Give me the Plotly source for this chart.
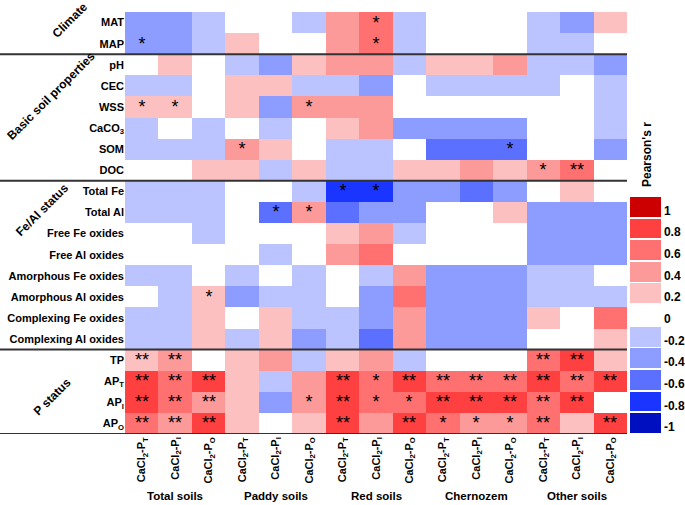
import plotly.graph_objects as go

W, H = 685, 505

row_labels = ["MAT", "MAP", "pH", "CEC", "WSS", "CaCO<sub>3</sub>", "SOM", "DOC",
              "Total Fe", "Total Al", "Free Fe oxides", "Free Al oxides",
              "Amorphous Fe oxides", "Amorphous Al oxides", "Complexing Fe oxides",
              "Complexing Al oxides", "TP", "AP<sub>T</sub>", "AP<sub>I</sub>", "AP<sub>O</sub>"]

col_labels = ["CaCl<sub>2</sub>-P<sub>T</sub>", "CaCl<sub>2</sub>-P<sub>I</sub>", "CaCl<sub>2</sub>-P<sub>O</sub>"] * 5
soil_groups = ["Total soils", "Paddy soils", "Red soils", "Chernozem", "Other soils"]
row_groups = ["Climate", "Basic soil properties", "Fe/Al status", "P status"]

# Pearson's r (binned); columns: PT, PI, PO for each soil group
r_MAT    = [-0.4, -0.4, -0.2, 0, 0, -0.2, 0.4, 0.6, -0.2, 0, 0, 0, -0.2, -0.4, 0.2]
r_MAP    = [-0.4, -0.4, -0.2, 0.2, 0, 0, 0.4, 0.6, -0.2, 0, 0, 0, -0.2, -0.2, 0]
r_pH     = [0, 0.2, 0, -0.2, -0.4, 0.2, 0.4, 0.4, -0.2, 0.2, 0.2, 0.4, -0.2, -0.2, -0.4]
r_CEC    = [-0.2, -0.2, 0, 0.2, 0.2, -0.2, -0.2, -0.4, 0, -0.2, -0.2, -0.2, -0.2, 0, -0.2]
r_WSS    = [0.2, 0.2, 0, 0.2, -0.4, 0.4, 0.4, 0.4, 0, 0, 0, 0, 0, 0, -0.2]
r_CaCO3  = [-0.2, 0, -0.2, 0, -0.2, 0, 0.2, 0.4, -0.4, -0.4, -0.4, -0.4, 0, 0, -0.2]
r_SOM    = [-0.2, -0.2, -0.2, 0.4, 0.2, 0, -0.2, -0.2, 0, -0.6, -0.6, -0.6, 0, 0, -0.4]
r_DOC    = [0, 0, 0.2, 0.2, -0.2, 0.2, -0.2, -0.2, 0.2, 0.2, 0.4, 0.2, 0.4, 0.6, 0]
r_TFe    = [-0.2, -0.2, -0.2, 0, 0, -0.2, -0.8, -0.8, -0.4, -0.4, -0.6, -0.4, 0, 0.2, 0]
r_TAl    = [-0.2, -0.2, -0.2, 0, -0.6, 0.4, -0.6, -0.4, -0.4, 0, 0, 0.2, -0.4, -0.4, -0.4]
r_FFe    = [0, 0, -0.2, 0, 0, 0, 0.2, 0.4, -0.2, 0, 0, 0, -0.4, -0.4, -0.4]
r_FAl    = [0, 0, 0, 0, -0.2, 0, 0.4, 0.6, 0, 0, 0, 0, -0.4, -0.4, -0.4]
r_AFe    = [-0.2, -0.2, 0, -0.2, 0, -0.2, 0, -0.2, 0.4, -0.4, -0.4, -0.4, -0.2, -0.2, 0]
r_AAl    = [0, -0.2, 0.2, -0.4, -0.2, -0.2, 0, -0.4, 0.6, -0.4, -0.4, -0.4, -0.2, -0.2, -0.2]
r_CFe    = [-0.2, -0.2, 0.2, 0, 0.2, -0.2, -0.2, -0.4, 0.4, -0.4, -0.4, -0.4, 0.2, 0, 0.6]
r_CAl    = [-0.2, -0.2, 0.2, -0.2, 0.2, -0.4, -0.2, -0.6, 0.4, -0.4, -0.4, -0.4, 0, 0, 0.2]
r_TP     = [0.2, 0.4, 0, 0.2, 0.4, -0.2, 0.2, 0.4, -0.2, 0, 0, 0, 0.6, 0.8, 0.2]
r_APT    = [0.8, 0.6, 0.8, 0.2, -0.2, 0.4, 0.8, 0.6, 0.8, 0.6, 0.6, 0.6, 0.8, 0.6, 0.8]
r_API    = [0.8, 0.6, 0.4, 0.2, -0.4, 0.4, 0.8, 0.6, 0.6, 0.8, 0.8, 0.8, 0.6, 0.8, 0]
r_APO    = [0.6, 0.4, 0.8, 0.2, 0, 0.2, 0.8, 0.4, 0.8, 0.6, 0.4, 0.4, 0.6, 0.2, 0.8]

# significance marks
s_MAT   = ["", "", "", "", "", "", "", "*", "", "", "", "", "", "", ""]
s_MAP   = ["*", "", "", "", "", "", "", "*", "", "", "", "", "", "", ""]
s_pH    = [""] * 15
s_CEC   = [""] * 15
s_WSS   = ["*", "*", "", "", "", "*", "", "", "", "", "", "", "", "", ""]
s_CaCO3 = [""] * 15
s_SOM   = ["", "", "", "*", "", "", "", "", "", "", "", "*", "", "", ""]
s_DOC   = ["", "", "", "", "", "", "", "", "", "", "", "", "*", "**", ""]
s_TFe   = ["", "", "", "", "", "", "*", "*", "", "", "", "", "", "", ""]
s_TAl   = ["", "", "", "", "*", "*", "", "", "", "", "", "", "", "", ""]
s_FFe   = [""] * 15
s_FAl   = [""] * 15
s_AFe   = [""] * 15
s_AAl   = ["", "", "*", "", "", "", "", "", "", "", "", "", "", "", ""]
s_CFe   = [""] * 15
s_CAl   = [""] * 15
s_TP    = ["**", "**", "", "", "", "", "", "", "", "", "", "", "**", "**", ""]
s_APT   = ["**", "**", "**", "", "", "", "**", "*", "**", "**", "**", "**", "**", "**", "**"]
s_API   = ["**", "**", "**", "", "", "*", "**", "*", "*", "**", "**", "**", "**", "**", ""]
s_APO   = ["**", "**", "**", "", "", "", "**", "", "**", "*", "*", "*", "**", "", "**"]

z = [r_MAT, r_MAP, r_pH, r_CEC, r_WSS, r_CaCO3, r_SOM, r_DOC, r_TFe, r_TAl, r_FFe, r_FAl,
     r_AFe, r_AAl, r_CFe, r_CAl, r_TP, r_APT, r_API, r_APO]
stars = [s_MAT, s_MAP, s_pH, s_CEC, s_WSS, s_CaCO3, s_SOM, s_DOC, s_TFe, s_TAl, s_FFe, s_FAl,
         s_AFe, s_AAl, s_CFe, s_CAl, s_TP, s_APT, s_API, s_APO]

cbar_ticks = [-1, -0.8, -0.6, -0.4, -0.2, 0, 0.2, 0.4, 0.6, 0.8, 1]
cbar_labels = ["-1", "-0.8", "-0.6", "-0.4", "-0.2", "0", "0.2", "0.4", "0.6", "0.8", "1"]

bin_colors = ["#0010c0", "#1a35ff", "#5c70ff", "#8c9cff", "#bcc4ff", "#ffffff",
              "#fdc0c0", "#fc9999", "#ff7070", "#ff4040", "#cc0000"]
n = len(bin_colors)
eps = 0.004
cs = []
for i, c in enumerate(bin_colors):
    lo, hi = i / n, (i + 1) / n
    cs += [[lo, "#ffffff"], [lo + eps, "#ffffff"], [lo + eps, c], [hi - eps, c],
           [hi - eps, "#ffffff"], [hi, "#ffffff"]]

FONT = "Liberation Sans"

# pixel layout helpers
hx0, hx1, hy0, hy1 = 125, 627, 12, 434
def px(x):
    return x / W
def py(y):
    return 1 - y / H

fig = go.Figure()
fig.add_trace(go.Heatmap(
    z=z, x=list(range(15)), y=list(range(20)),
    text=stars, texttemplate="%{text}",
    textfont=dict(color="black", size=18, family=FONT),
    colorscale=cs, zmin=-1.1, zmax=1.1, hoverinfo="skip",
    colorbar=dict(
        x=px(630), xanchor="left", y=py(434), yanchor="bottom",
        len=(434 - 196) / H, lenmode="fraction", thickness=31, thicknessmode="pixels",
        tickvals=[v - 0.035 for v in cbar_ticks],
        ticktext=["<b>" + t + "</b>" for t in cbar_labels],
        tickfont=dict(size=12, color="black", family=FONT),
        outlinewidth=0, ticks="", ticklabelposition="outside", xpad=0, ypad=0,
    ),
))

fig.update_xaxes(
    domain=[px(hx0), px(hx1)], range=[-0.5, 14.5],
    tickvals=list(range(15)), ticktext=["<b>" + t + "</b>" for t in col_labels],
    tickangle=-90, tickfont=dict(size=11, color="black", family=FONT),
    showgrid=False, zeroline=False, showline=False, ticks="", automargin=False,
)
fig.update_yaxes(
    domain=[py(hy1), py(hy0)], range=[19.5, -0.5],
    tickvals=list(range(20)), ticktext=["<b>" + t + "</b>" for t in row_labels],
    tickfont=dict(size=11, color="black", family=FONT),
    showgrid=False, zeroline=False, showline=False, ticks="", automargin=False,
)

shapes = []
for yb in [1.5, 7.5, 15.5, 19.5]:
    shapes.append(dict(type="line", xref="paper", yref="y", x0=0, x1=px(hx1), y0=yb, y1=yb,
                       line=dict(color="#333333", width=2)))

annotations = []
for k, g in enumerate(soil_groups):
    annotations.append(dict(x=3 * k + 1, y=py(496), xref="x", yref="paper", text="<b>" + g + "</b>",
                            showarrow=False, font=dict(size=11.5, color="black", family=FONT),
                            xanchor="center", yanchor="middle"))
group_pos = [(70, 20), (51, 96), (42, 210), (52, 397)]
for g, (gx, gy) in zip(row_groups, group_pos):
    annotations.append(dict(x=px(gx), y=py(gy), xref="paper", yref="paper", text="<b>" + g + "</b>",
                            showarrow=False, textangle=-45,
                            font=dict(size=12, color="black", family=FONT),
                            xanchor="center", yanchor="middle"))
annotations.append(dict(x=px(647), y=py(155), xref="paper", yref="paper", text="<b>Pearson's r</b>",
                        showarrow=False, textangle=-90,
                        font=dict(size=12, color="black", family=FONT),
                        xanchor="center", yanchor="middle"))

fig.update_layout(
    width=W, height=H, margin=dict(l=0, r=0, t=0, b=0),
    paper_bgcolor="white", plot_bgcolor="white",
    shapes=shapes, annotations=annotations, showlegend=False,
    font=dict(family=FONT, color="black"),
)

fig.write_html("out.html", config={"displayModeBar": False},
               post_script="document.body.style.margin='0px';")
